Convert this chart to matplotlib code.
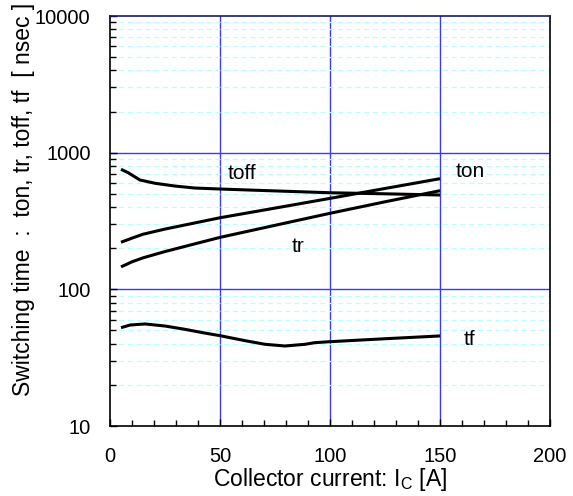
#!/usr/bin/env python3
"""Switching time vs collector current (log scale)."""

import matplotlib
matplotlib.use('Agg')
import matplotlib.pyplot as plt
from matplotlib.ticker import FixedLocator, MultipleLocator, FuncFormatter, LogLocator

plt.rcParams['font.family'] = ['Liberation Sans', 'DejaVu Sans']
plt.rcParams['mathtext.fontset'] = 'custom'
plt.rcParams['mathtext.rm'] = 'Liberation Sans'

# ---------------------------------------------------------------------
# DATA
# ---------------------------------------------------------------------
toff_ic = [5, 8.3, 13.6, 20.5, 29.5, 38.6, 50, 75, 100, 125, 150]
toff_ns = [756, 713, 631, 597, 570, 551, 542, 525, 509, 500, 490]

ton_ic = [5, 10, 15, 25, 50, 75, 100, 125, 150]
ton_ns = [221, 237, 253, 276, 334, 393, 463, 547, 645]

tr_ic = [5, 10, 15, 25, 50, 75, 100, 125, 150]
tr_ns = [146, 159, 170, 189, 240, 294, 360, 437, 527]

tf_ic = [5, 9.1, 15.9, 25, 34, 43, 50, 61.4, 70.5, 79.5, 88.6, 93, 100, 125, 150]
tf_ns = [52.4, 54.8, 55.8, 53.9, 51.0, 47.9, 45.8, 42.1, 39.6, 38.5, 39.6, 40.7,
         41.4, 43.5, 45.6]

curve_labels = ['toff', 'ton', 'tr', 'tf']
label_pos = [(60, 700), (163.6, 722), (85.5, 207), (163.6, 43.3)]

x_ticks = [0, 50, 100, 150, 200]
y_ticks = [10, 100, 1000, 10000]

TICK_FONT = 14.5
LABEL_FONT = 16.5
CURVE_FONT = 15


def main() -> None:
    fig = plt.figure(figsize=(5.73, 4.96), dpi=100)
    ax = fig.add_axes([110 / 573, 70 / 496, 440 / 573, 410 / 496])

    ax.set_yscale('log')
    ax.set_xlim(0, 200)
    ax.set_ylim(10, 10000)

    # grid: cyan dashed minors, blue majors
    ax.yaxis.set_minor_locator(LogLocator(base=10, subs=range(2, 10)))
    ax.grid(True, which='minor', axis='y', color='#b8ffff', linestyle=(0, (4, 3)), linewidth=0.9)
    for xv in [50, 100, 150]:
        ax.axvline(xv, color='#3a3aff', linewidth=1.0, zorder=1)
    for yv in [100, 1000]:
        ax.axhline(yv, color='#3a3aff', linewidth=1.0, zorder=1)

    for xs, ys in [(toff_ic, toff_ns), (ton_ic, ton_ns), (tr_ic, tr_ns), (tf_ic, tf_ns)]:
        ax.plot(xs, ys, color='black', linewidth=2.2, solid_capstyle='butt',
                solid_joinstyle='round', zorder=3)

    for txt, (px, py) in zip(curve_labels, label_pos):
        ax.text(px, py, txt, fontsize=CURVE_FONT, ha='center', va='center', zorder=4)

    ax.xaxis.set_major_locator(FixedLocator(x_ticks))
    ax.xaxis.set_minor_locator(MultipleLocator(10))
    ax.yaxis.set_major_locator(FixedLocator(y_ticks))
    ax.yaxis.set_major_formatter(FuncFormatter(lambda v, p: f'{int(round(v))}'))
    ax.yaxis.set_minor_formatter(FuncFormatter(lambda v, p: ''))

    ax.tick_params(axis='both', which='both', direction='in', top=False, right=False,
                   labelsize=TICK_FONT, width=1.0)
    ax.tick_params(axis='x', which='major', length=5, pad=15)
    ax.tick_params(axis='x', which='minor', length=4)
    ax.tick_params(axis='y', which='major', length=5, pad=14)
    ax.tick_params(axis='y', which='minor', length=4)

    for side in ['left', 'bottom', 'right']:
        ax.spines[side].set_color('black')
        ax.spines[side].set_linewidth(1.2)
    ax.spines['top'].set_color('#1a1a60')
    ax.spines['top'].set_linewidth(1.2)

    ax.set_xlabel(r'Collector current: I$_\mathrm{C}$ [A]', fontsize=LABEL_FONT, labelpad=0)
    fig.text(24 / 573, 1 - 199 / 496, 'Switching time  :  ton, tr, toff, tf  [ nsec ]',
             rotation=90, ha='center', va='center', fontsize=LABEL_FONT)

    fig.savefig('out.png', dpi=100)
    plt.close(fig)


if __name__ == '__main__':
    main()
